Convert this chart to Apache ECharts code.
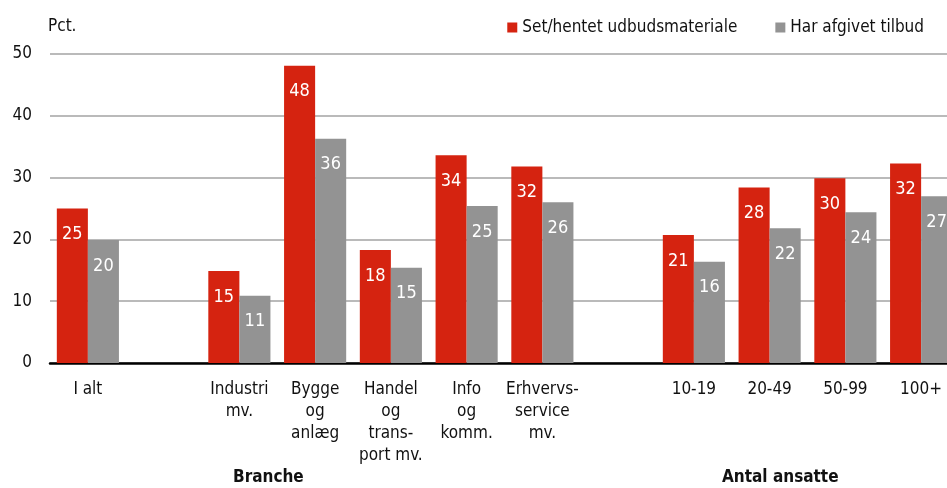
<!DOCTYPE html>
<html>
<head>
<meta charset="utf-8">
<script src="https://cdn.jsdelivr.net/npm/echarts@6/dist/echarts.min.js"></script>
<style>
  html, body { margin: 0; padding: 0; background: #fff; }
  #main { width: 947px; height: 488px; }
</style>
</head>
<body>
<div id="main"></div>
<script>
// kategorier (tomme pladser adskiller grupperne)
var categories = ['I alt', '', 'Industri\nmv.', 'Bygge\nog\nanlæg', 'Handel\nog\ntrans-\nport mv.', 'Info\nog\nkomm.', 'Erhvervs-\nservice\nmv.', '', '10-19', '20-49', '50-99', '100+']
var seriesNames = ['Set/hentet udbudsmateriale', 'Har afgivet tilbud']
var setHentet = [25.0, null, 14.9, 48.1, 18.3, 33.6, 31.8, null, 20.7, 28.4, 29.9, 32.3]
var afgivet = [19.9, null, 10.9, 36.3, 15.4, 25.4, 26.0, null, 16.4, 21.8, 24.4, 27.0]
var yTicks = [0, 10, 20, 30, 40, 50]

var font = '"Liberation Sans Narrow", "DejaVu Sans Condensed", "Open Sans", sans-serif'
var myChart = echarts.init(document.getElementById('main'))

var labelOpt = {
    show: true,
    position: 'insideTop',
    distance: 17,
    color: '#fff',
    fontSize: 18,
    fontFamily: font,
    formatter: function (p) { return Math.round(p.value) }
}

var option = {
    animation: false,
    textStyle: { fontFamily: font },
    legend: {
        data: seriesNames,
        right: 18,
        top: 14,
        icon: 'rect',
        itemWidth: 10,
        itemHeight: 10,
        itemGap: 38,
        textStyle: { fontSize: 17, color: '#111', fontFamily: font }
    },
    // plottet fortsætter lidt ud over højre kant, som i originalen
    grid: { left: 50, width: 909, top: 54, bottom: 125, outerBoundsMode: 'none', containLabel: false },
    xAxis: {
        type: 'category',
        data: categories,
        axisLine: { lineStyle: { color: '#000', width: 2.5 } },
        axisTick: { show: false },
        axisLabel: {
            interval: 0,
            margin: 16,
            fontSize: 17,
            lineHeight: 22,
            color: '#111',
            fontFamily: font
        }
    },
    yAxis: {
        type: 'value',
        min: yTicks[0],
        max: yTicks[yTicks.length - 1],
        interval: 10,
        name: 'Pct.',
        nameLocation: 'end',
        nameGap: 19,
        nameTextStyle: { align: 'left', fontSize: 17, color: '#111', fontFamily: font, padding: [0, 0, 0, -2] },
        axisLine: { show: false },
        axisTick: { show: false },
        axisLabel: { margin: 18, fontSize: 17, color: '#111', fontFamily: font },
        splitLine: { lineStyle: { color: '#a3a3a3', width: 1.5 } }
    },
    series: [
        {
            name: seriesNames[0],
            type: 'bar',
            data: setHentet,
            barGap: '0%',
            barCategoryGap: '18%',
            itemStyle: { color: '#d52310' },
            label: labelOpt
        },
        {
            name: seriesNames[1],
            type: 'bar',
            data: afgivet,
            itemStyle: { color: '#939393' },
            label: labelOpt
        }
    ],
    graphic: [
        { type: 'text', left: 233, top: 469, style: { text: 'Branche', font: 'bold 17px ' + font, fill: '#111' } },
        { type: 'text', left: 722, top: 469, style: { text: 'Antal ansatte', font: 'bold 17px ' + font, fill: '#111' } }
    ]
}
myChart.setOption(option)
</script>
</body>
</html>
